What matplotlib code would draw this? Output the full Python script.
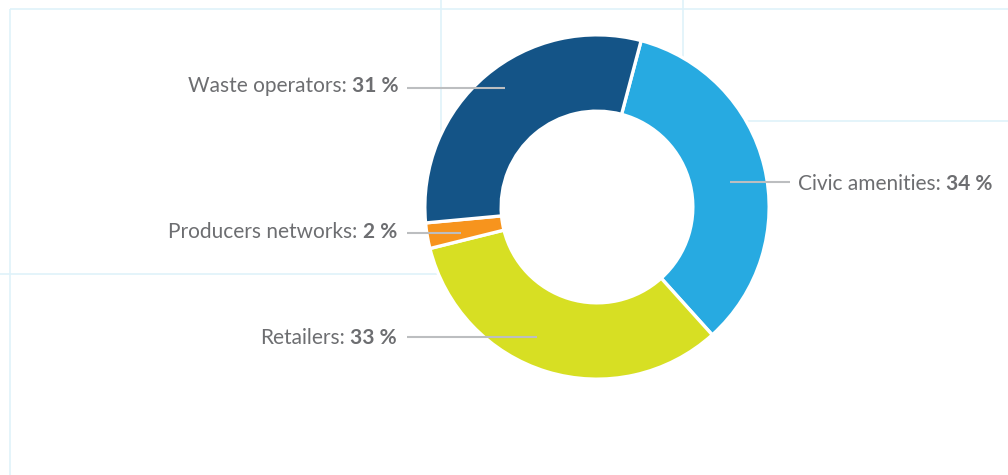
import matplotlib
matplotlib.use('Agg')
import matplotlib.pyplot as plt

# ---------------- data ----------------
categories = ['Civic amenities', 'Retailers', 'Producers networks', 'Waste operators']
values = [34.2, 32.8, 2.4, 30.6]
pct_labels = ['34 %', '33 %', '2 %', '31 %']
colors = ['#27aae1', '#d7df23', '#f7941d', '#145487']

# ---------------- layout (pixels) ----------------
W, H = 1008, 475
CX, CY = 597, 207
R_OUT, R_IN = 170.5, 97.5
EDGE_PX = 3.3
START_FROM_TOP = 14.85  # degrees clockwise from 12 o'clock

# label layout: side, text anchor x, baseline y, connector y, connector x-range
label_layout = [
    dict(side='right', x=798, base=189.5, ly=182, lx=(730, 790)),
    dict(side='left', x=397, base=343.5, ly=337, lx=(407, 537)),
    dict(side='left', x=397, base=237.5, ly=232.5, lx=(407, 461)),
    dict(side='left', x=399, base=92.5, ly=88, lx=(407, 505)),
]

TEXT_COLOR = '#6d6e71'
LINE_COLOR = '#bcbec0'
GRID_COLOR = '#dff2fa'
FONT = ['Lato', 'DejaVu Sans']
FS = 15

def Y(y):
    return H - y

fig = plt.figure(figsize=(W / 100, H / 100), dpi=100)
ax = fig.add_axes([0, 0, 1, 1])

# background grid segments
grid_segments = [
    ((10, 9), (W, 9)),
    ((10, 9), (10, H)),
    ((441, 0), (441, 274)),
    ((0, 274), (441, 274)),
    ((683, 0), (683, 121)),
    ((683, 121), (W, 121)),
]
for (x0, y0), (x1, y1) in grid_segments:
    ax.plot([x0, x1], [Y(y0), Y(y1)], color=GRID_COLOR, lw=1.2, zorder=0,
            solid_capstyle='butt')

lw_pt = EDGE_PX * 72 / 100
ax.pie(values, colors=colors, startangle=90 - START_FROM_TOP, counterclock=False,
       center=(CX, Y(CY)), radius=R_OUT + EDGE_PX / 2,
       wedgeprops=dict(width=(R_OUT - R_IN) + EDGE_PX, edgecolor='white',
                       linewidth=lw_pt),
       frame=False)

ax.set_xlim(0, W)
ax.set_ylim(0, H)
ax.set_aspect('auto')
ax.axis('off')

for cat, pct, lay in zip(categories, pct_labels, label_layout):
    x0, x1 = lay['lx']
    ax.plot([x0, x1], [Y(lay['ly'])] * 2, color=LINE_COLOR, lw=1.5, zorder=5,
            solid_capstyle='butt')
    if lay['side'] == 'left':
        bold = ax.text(lay['x'], Y(lay['base']), pct, ha='right', va='baseline',
                       fontsize=FS, family=FONT, weight='bold', color=TEXT_COLOR)
        ax.annotate(cat + ':', xy=(0, Y(lay['base'])), xycoords=(bold, 'data'),
                    xytext=(-4, 0), textcoords='offset points', ha='right',
                    va='baseline', fontsize=FS, family=FONT, color=TEXT_COLOR)
    else:
        norm = ax.text(lay['x'], Y(lay['base']), cat + ':', ha='left',
                       va='baseline', fontsize=FS, family=FONT, color=TEXT_COLOR)
        ax.annotate(pct, xy=(1, Y(lay['base'])), xycoords=(norm, 'data'),
                    xytext=(4, 0), textcoords='offset points', ha='left',
                    va='baseline', fontsize=FS, family=FONT, weight='bold',
                    color=TEXT_COLOR)

fig.savefig('out.png', dpi=100, facecolor='white')
